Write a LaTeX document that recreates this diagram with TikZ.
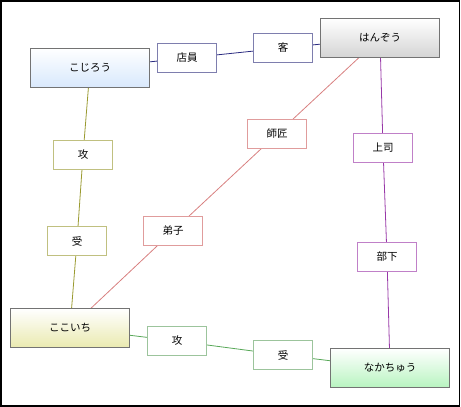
\documentclass[tikz,border=0pt]{standalone}
\usepackage{fontspec}
\newfontfamily\jp{Noto Sans CJK JP}
\usetikzlibrary{backgrounds}
\definecolor{mainborder}{HTML}{737373}
\definecolor{navyline}{HTML}{2A2A80}
\definecolor{navybox}{HTML}{7E7EAE}
\definecolor{oliveline}{HTML}{9A9A30}
\definecolor{olivebox}{HTML}{C0C080}
\definecolor{redline}{HTML}{D88080}
\definecolor{redbox}{HTML}{E09C9C}
\definecolor{purpleline}{HTML}{9838A8}
\definecolor{purplebox}{HTML}{C080C8}
\definecolor{greenline}{HTML}{58A858}
\definecolor{greenbox}{HTML}{9CC49C}
\definecolor{blueend}{HTML}{D8E8FC}
\definecolor{grayend}{HTML}{D4D4D4}
\definecolor{yellowend}{HTML}{EAEAB0}
\definecolor{greenend}{HTML}{B8F4C0}
\tikzset{
  x=1pt,y=-1pt,
  every node/.style={font=\jp\fontsize{10.5}{12}\selectfont, inner sep=0pt},
  person/.style={draw=mainborder, line width=1.7pt, minimum width=119pt, minimum height=39pt, top color=white, bottom color=#1},
  role/.style={draw=#1, line width=1.5pt, fill=white, minimum width=59pt, minimum height=29pt},
  link/.style={draw=#1, line width=0.8pt}
}
\begin{document}
\begin{tikzpicture}
\useasboundingbox (0,0) rectangle (461,407);
\draw[black, line width=1.3pt] (1,1) rectangle (459.5,406);
% persons
\node[person=blueend] (kojiro) at (90,68) {こじろう};
\node[person=grayend] (hanzo) at (380,38) {はんぞう};
\node[person=yellowend] (kokoichi) at (70,328) {ここいち};
\node[person=greenend] (nakachu) at (390,368) {なかちゅう};
% roles
\node[role=navybox] (tenin) at (187,58) {店員};
\node[role=navybox] (kyaku) at (283,48) {客};
\node[role=olivebox] (seme1) at (83,155) {攻};
\node[role=olivebox] (uke1) at (77,241) {受};
\node[role=redbox] (shisho) at (277,134) {師匠};
\node[role=redbox] (deshi) at (173,231) {弟子};
\node[role=purplebox] (joshi) at (383,148) {上司};
\node[role=purplebox] (buka) at (387,257) {部下};
\node[role=greenbox] (seme2) at (177,341) {攻};
\node[role=greenbox] (uke2) at (283,355) {受};
\begin{pgfonlayer}{background}
\draw[link=navyline] (kojiro.center) -- (tenin.center) -- (kyaku.center) -- (hanzo.center);
\draw[link=oliveline] (kojiro.center) -- (seme1.center) -- (uke1.center) -- (kokoichi.center);
\draw[link=redline] (hanzo.center) -- (shisho.center) -- (deshi.center) -- (kokoichi.center);
\draw[link=purpleline] (hanzo.center) -- (joshi.center) -- (buka.center) -- (nakachu.center);
\draw[link=greenline] (kokoichi.center) -- (seme2.center) -- (uke2.center) -- (nakachu.center);
\end{pgfonlayer}
\end{tikzpicture}
\end{document}
